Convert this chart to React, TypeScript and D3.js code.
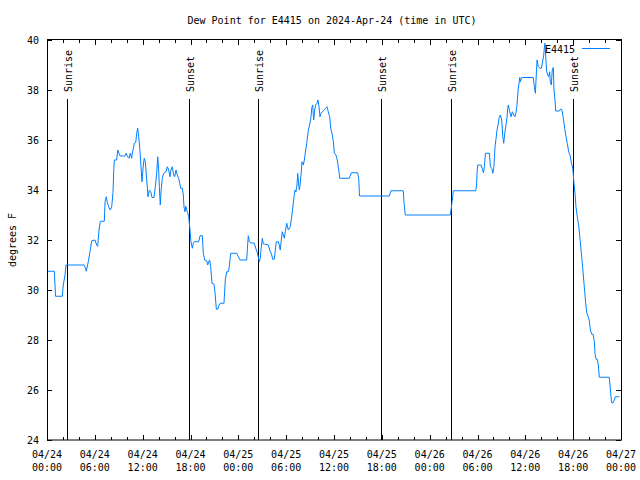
import React from "react";
import * as d3 from "d3";

const TITLE = "Dew Point for E4415 on 2024-Apr-24 (time in UTC)";
const Y_LABEL = "degrees F";
const SERIES_NAME = "E4415";
const START = Date.UTC(2024, 3, 24, 0, 0);
const END = Date.UTC(2024, 3, 27, 0, 0);
const Y_TICKS = [24, 26, 28, 30, 32, 34, 36, 38, 40];

// hours since 2024-04-24 00:00 UTC
const sunriseHours = [2.53, 26.51, 50.62];
const sunsetHours = [17.87, 41.87, 66.0];

const hours = [
  0.09, 0.92, 1.07, 1.92, 2.04, 2.26, 2.38, 4.68, 4.93, 5.18, 5.39, 5.61, 6.02, 6.23, 6.36, 6.52, 6.69, 7.19, 7.28, 7.44,
  7.56, 7.78, 7.94, 8.12, 8.28, 8.37, 8.44, 8.74, 8.87, 9.03, 9.19, 9.78, 9.91, 10.12, 10.29, 10.45, 10.62, 10.7, 10.83, 10.95,
  11.13, 11.25, 11.38, 11.5, 11.67, 11.79, 11.92, 12.08, 12.2, 12.33, 12.51, 12.67, 12.83, 13.01, 13.17, 13.42, 13.59, 13.76, 13.89, 14.01,
  14.09, 14.21, 14.3, 14.46, 14.64, 14.93, 15.09, 15.27, 15.43, 15.55, 15.72, 15.89, 16.02, 16.18, 16.34, 16.52, 16.65, 16.77, 16.97, 17.1,
  17.18, 17.31, 17.4, 17.52, 17.65, 17.77, 17.94, 18.06, 18.23, 18.35, 18.48, 19.03, 19.19, 19.48, 19.61, 19.78, 20.03, 20.16, 20.28, 20.41,
  20.53, 20.7, 20.95, 21.07, 21.24, 21.41, 21.58, 21.74, 22.2, 22.37, 22.54, 22.74, 22.87, 23.04, 23.8, 24.0, 24.21, 25.05, 25.18, 25.25,
  25.38, 25.5, 26.0, 26.18, 26.34, 26.5, 26.63, 26.75, 26.84, 27.01, 27.13, 27.26, 27.76, 27.94, 28.19, 28.31, 28.51, 28.64, 28.76, 29.01,
  29.14, 29.26, 29.39, 29.51, 29.64, 29.77, 29.89, 30.07, 30.27, 30.52, 30.69, 30.82, 30.98, 31.11, 31.23, 31.36, 31.45, 31.52, 31.65, 31.74,
  31.86, 31.99, 32.15, 32.28, 32.45, 32.58, 32.78, 32.95, 33.12, 33.2, 33.33, 33.45, 33.58, 33.7, 33.87, 33.99, 34.12, 34.24, 34.37, 34.53,
  34.78, 34.96, 35.12, 35.29, 35.46, 35.59, 35.79, 35.92, 36.04, 36.25, 36.41, 36.63, 36.71, 37.92, 38.17, 38.95, 39.1, 39.2, 42.94, 43.15,
  44.69, 44.78, 44.94, 50.59, 50.68, 50.89, 50.97, 53.78, 53.88, 53.94, 54.03, 54.45, 54.61, 54.74, 54.87, 54.99, 55.49, 55.62, 55.79, 55.92,
  56.04, 56.2, 56.33, 56.45, 56.58, 56.7, 56.86, 57.04, 57.17, 57.29, 57.42, 57.54, 57.71, 57.79, 57.87, 58.04, 58.21, 58.37, 58.55, 58.71,
  58.84, 58.96, 59.09, 59.21, 59.3, 59.37, 59.55, 61.0, 61.13, 61.26, 61.34, 61.47, 61.63, 61.84, 62.01, 62.13, 62.31, 62.38, 62.47, 62.56,
  62.68, 62.81, 62.93, 63.06, 63.13, 63.26, 63.38, 63.51, 63.59, 63.72, 63.81, 64.26, 64.43, 64.6, 64.76, 64.94, 65.1, 65.26, 65.44, 65.6,
  65.79, 65.94, 66.02, 66.1, 66.23, 66.35, 66.52, 66.7, 66.82, 66.95, 67.07, 67.2, 67.32, 67.45, 67.57, 67.7, 67.86, 68.03, 68.16, 68.33,
  68.5, 68.66, 68.74, 68.87, 69.03, 69.15, 69.28, 70.53, 70.62, 70.75, 70.83, 71.03, 71.16, 71.28, 71.79,
];

const dewPoint = [
  30.75, 30.75, 29.75, 29.75, 30.2, 30.6, 31.0, 31.0, 30.75, 31.13, 31.53, 31.97, 32.0, 31.8, 31.75, 32.4, 32.75, 32.75, 33.53, 33.73,
  33.5, 33.3, 33.2, 33.33, 33.9, 34.73, 35.2, 35.2, 35.6, 35.47, 35.36, 35.36, 35.47, 35.33, 35.27, 35.47, 35.27, 35.47, 35.67, 35.87,
  35.9, 36.27, 36.47, 36.13, 35.53, 34.93, 34.33, 35.0, 35.27, 35.13, 34.4, 33.73, 34.0, 33.93, 33.7, 33.7, 34.13, 34.67, 35.33, 34.8,
  34.13, 33.4, 33.93, 34.47, 34.67, 34.73, 34.93, 34.8, 34.53, 34.8, 34.93, 34.6, 34.53, 34.8, 34.6, 34.47, 34.27, 34.07, 34.07, 33.8,
  33.33, 33.13, 33.36, 33.2, 33.09, 32.93, 32.4, 31.93, 31.67, 31.87, 31.93, 31.93, 32.17, 32.17, 31.47, 31.2, 31.17, 31.0, 31.13, 31.2,
  30.93, 30.27, 30.23, 29.93, 29.23, 29.23, 29.4, 29.47, 29.47, 30.43, 30.73, 30.73, 30.93, 31.47, 31.47, 31.33, 31.2, 31.2, 31.87, 32.17,
  31.93, 31.89, 31.87, 31.67, 31.53, 31.33, 31.13, 31.27, 31.6, 32.07, 31.84, 31.84, 31.8, 31.6, 31.4, 31.23, 31.23, 31.6, 31.93, 31.93,
  31.8, 31.6, 32.0, 32.33, 32.2, 32.07, 32.33, 32.67, 32.4, 32.53, 32.93, 33.27, 33.73, 34.0, 33.93, 34.2, 34.67, 34.4, 34.0, 34.2,
  34.6, 35.13, 35.0, 35.2, 35.6, 35.87, 36.4, 36.6, 36.93, 37.27, 37.4, 36.8, 37.2, 37.4, 37.47, 37.6, 37.33, 36.93, 37.07, 37.13,
  37.2, 37.27, 37.33, 37.13, 36.93, 36.47, 36.2, 35.93, 35.47, 35.4, 35.2, 34.73, 34.47, 34.47, 34.69, 34.69, 34.47, 33.76, 33.76, 33.97,
  33.97, 33.5, 33.0, 33.0, 33.2, 33.73, 33.97, 33.97, 34.2, 34.69, 35.0, 35.0, 34.85, 34.69, 34.93, 35.47, 35.47, 34.93, 34.87, 34.67,
  34.87, 35.73, 36.07, 36.4, 36.6, 36.87, 37.0, 36.8, 36.13, 35.87, 36.27, 36.53, 36.93, 37.27, 37.4, 37.13, 36.93, 37.13, 37.0, 36.93,
  37.13, 37.4, 38.0, 38.27, 38.5, 38.33, 38.5, 38.5, 38.13, 37.87, 38.4, 39.2, 38.93, 38.87, 38.87, 39.07, 39.4, 39.67, 39.87, 39.33,
  38.73, 38.6, 38.53, 38.73, 38.33, 38.2, 38.8, 38.9, 38.0, 37.6, 37.16, 37.16, 37.24, 37.2, 36.87, 36.47, 36.13, 35.87, 35.53, 35.4,
  35.07, 34.87, 34.6, 34.27, 33.87, 33.33, 32.93, 32.56, 32.16, 31.73, 31.33, 30.87, 30.4, 29.93, 29.47, 29.09, 28.96, 28.77, 28.4, 28.23,
  28.23, 27.93, 27.47, 27.23, 27.23, 27.0, 26.51, 26.51, 26.2, 25.73, 25.49, 25.49, 25.6, 25.73, 25.73,
];

const W = 640;
const H = 480;
const M = { left: 47, right: 621, top: 40, bottom: 440 };
const FONT = "'DejaVu Sans Mono', monospace";
const LINE_COLOR = "rgb(0,128,255)";

export default function App() {
  const x = d3.scaleUtc().domain([new Date(START), new Date(END)]).range([M.left, M.right]);
  const y = d3.scaleLinear().domain([24, 40]).range([M.bottom, M.top]);
  const toDate = (h: number) => new Date(START + h * 3600e3);

  const data = hours.map((h, i) => ({ t: toDate(h), v: dewPoint[i] }));
  const line = d3
    .line<{ t: Date; v: number }>()
    .x((d) => x(d.t))
    .y((d) => y(d.v));

  const majorTicks = x.ticks(d3.utcHour.every(6)!);
  const minorTicks = x.ticks(d3.utcHour.every(2)!).filter((t) => t.getUTCHours() % 6 !== 0);
  const fmtDate = d3.utcFormat("%m/%d");
  const fmtTime = d3.utcFormat("%H:%M");

  const sunLines = [
    ...sunriseHours.map((h) => ({ h, label: "Sunrise" })),
    ...sunsetHours.map((h) => ({ h, label: "Sunset" })),
  ];

  const px = (v: number) => Math.round(v) + 0.5;
  const maj = 5;
  const mnr = 3;

  return (
    <svg
      width={W}
      height={H}
      style={{ position: "absolute", left: 0, top: 0, background: "#fff" }}
      fontFamily={FONT}
      fontSize={10}
    >
      <rect x={0} y={0} width={W} height={H} fill="#fff" />
      <text x={332} y={24} textAnchor="middle" fill="#000">
        {TITLE}
      </text>
      <text transform={`translate(16,240) rotate(-90)`} textAnchor="middle" fill="#000">
        {Y_LABEL}
      </text>

      {/* y ticks */}
      {Y_TICKS.map((v) => (
        <g key={"y" + v}>
          <line x1={M.left} x2={M.left + maj} y1={px(y(v))} y2={px(y(v))} stroke="#000" />
          <line x1={M.right} x2={M.right - maj} y1={px(y(v))} y2={px(y(v))} stroke="#000" />
          <text x={39} y={y(v) + 4} textAnchor="end" fill="#000">
            {v}
          </text>
        </g>
      ))}

      {/* x ticks */}
      {majorTicks.map((t, i) => (
        <g key={"xm" + i}>
          <line x1={px(x(t))} x2={px(x(t))} y1={M.bottom} y2={M.bottom - maj} stroke="#000" />
          <line x1={px(x(t))} x2={px(x(t))} y1={M.top} y2={M.top + maj} stroke="#000" />
          <text x={x(t)} y={458} textAnchor="middle" fill="#000">
            {fmtDate(t)}
          </text>
          <text x={x(t)} y={471} textAnchor="middle" fill="#000">
            {fmtTime(t)}
          </text>
        </g>
      ))}
      {minorTicks.map((t, i) => (
        <g key={"xn" + i}>
          <line x1={px(x(t))} x2={px(x(t))} y1={M.bottom} y2={M.bottom - mnr} stroke="#000" />
          <line x1={px(x(t))} x2={px(x(t))} y1={M.top} y2={M.top + mnr} stroke="#000" />
        </g>
      ))}

      {/* sunrise / sunset */}
      {sunLines.map((s, i) => {
        const sx = px(x(toDate(s.h)));
        return (
          <g key={"s" + i}>
            <line x1={sx} x2={sx} y1={99} y2={M.bottom} stroke="#000" />
            <text transform={`translate(${sx + 4.5},92) rotate(-90)`} textAnchor="start" fill="#000">
              {s.label}
            </text>
          </g>
        );
      })}

      <path d={line(data) || ""} fill="none" stroke={LINE_COLOR} strokeWidth={1} />

      {/* legend */}
      <text x={575} y={53} textAnchor="end" fill="#000">
        {SERIES_NAME}
      </text>
      <line x1={582} x2={610} y1={48.5} y2={48.5} stroke={LINE_COLOR} />

      {/* frame */}
      <rect
        x={M.left + 0.5}
        y={M.top - 0.5}
        width={M.right - M.left}
        height={M.bottom - M.top + 0.5}
        fill="none"
        stroke="#000"
      />
    </svg>
  );
}
